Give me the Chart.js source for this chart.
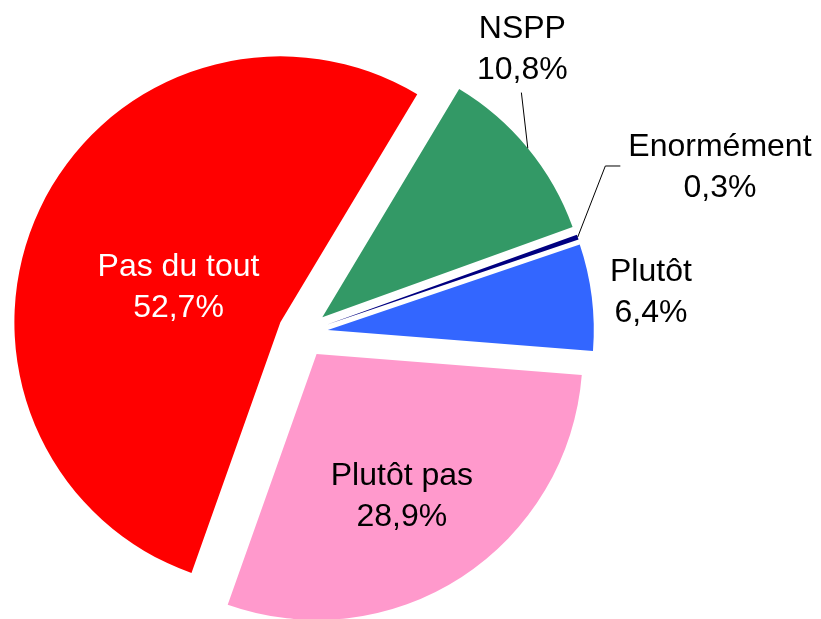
<!DOCTYPE html>
<html lang="fr">
<head>
<meta charset="utf-8">
<title>Répartition des réponses</title>
<script src="https://cdn.jsdelivr.net/npm/chart.js@4/dist/chart.umd.min.js"></script>
<style>
    html, body { margin: 0; padding: 0; background: #fff; }
    #wrap { width: 821px; height: 619px; position: relative; }
</style>
</head>
<body>
<div id="wrap"><canvas id="pieChart"></canvas></div>
<script>
// Data
const categories = ['Enormément', 'Plutôt', 'Plutôt pas', 'Pas du tout', 'NSPP'];
const percentages = [0.3, 6.4, 28.9, 52.7, 10.8];

// Styles
const sliceColors = ['#000080', '#3366FF', '#FF99CC', '#FF0000', '#339966'];
const labelColors = ['#000000', '#000000', '#000000', '#FFFFFF', '#000000'];
// where each label sits: distance from the slice tip (share of radius), angle nudge (deg), leader line
const labelPlacement = [
    { dist: 1.596, nudge: -2.85, leader: 'left' },
    { dist: 1.224, nudge: 0, leader: null },
    { dist: 0.616, nudge: 1.6, leader: null },
    { dist: 0.408, nudge: -5.1, leader: null },
    { dist: 1.265, nudge: -14.1, leader: 'bottom' }
];

const FONT_SIZE = 32;
const FONT = FONT_SIZE + 'px "Liberation Sans", Arial, sans-serif';
const LINE_H = 41;
const EXPLODE = 25; // px each slice is pulled out from the centre

function fmtPct(v) {
    return v.toFixed(1).replace('.', ',') + '%';
}

// Pull every slice out along its mid angle. Chart.js' own offset drops the very
// thin "Enormément" slice, so the slice centres are moved instead.
const explode = {
    id: 'explode',
    afterDatasetUpdate(chart, args) {
        args.meta.data.forEach(arc => {
            const mid = (arc.startAngle + arc.endAngle) / 2;
            arc.x += Math.cos(mid) * EXPLODE;
            arc.y += Math.sin(mid) * EXPLODE;
        });
    }
};

// Category + percentage labels, with leader lines for the outside ones
const sliceLabels = {
    id: 'sliceLabels',
    afterDatasetsDraw(chart) {
        const ctx = chart.ctx;
        const meta = chart.getDatasetMeta(0);
        ctx.save();
        ctx.font = FONT;
        ctx.textAlign = 'center';
        ctx.textBaseline = 'alphabetic';
        meta.data.forEach((arc, i) => {
            const p = labelPlacement[i];
            const r = arc.outerRadius;
            const mid = (arc.startAngle + arc.endAngle) / 2;
            const a = mid + p.nudge * Math.PI / 180;
            const cx = arc.x + Math.cos(a) * r * p.dist;
            const cy = arc.y + Math.sin(a) * r * p.dist;
            const lines = [categories[i], fmtPct(percentages[i])];

            ctx.fillStyle = labelColors[i];
            lines.forEach((txt, k) => {
                const lineMid = cy + (k - 0.5) * LINE_H;
                ctx.fillText(txt, cx, lineMid + FONT_SIZE * 0.358);
            });

            if (p.leader) {
                const ex = arc.x + Math.cos(mid) * r;
                const ey = arc.y + Math.sin(mid) * r;
                ctx.strokeStyle = '#000';
                ctx.lineWidth = 1;
                ctx.beginPath();
                ctx.moveTo(ex, ey);
                if (p.leader === 'bottom') {
                    ctx.lineTo(cx - 1, cy + LINE_H + 5);
                } else {
                    const w = Math.max(...lines.map(t => ctx.measureText(t).width));
                    const endX = cx - w / 2 - 8;
                    ctx.lineTo(endX - 15, cy + 1);
                    ctx.lineTo(endX, cy + 1);
                }
                ctx.stroke();
            }
        });
        ctx.restore();
    }
};

const ctxPie = document.getElementById('pieChart').getContext('2d');
const pieChart = new Chart(ctxPie, {
    type: 'pie',
    data: {
        labels: categories,
        datasets: [{
            data: percentages,
            backgroundColor: sliceColors,
            borderWidth: 0,
            offset: 0,
            hoverOffset: 0,
            rotation: 70.2,
            radius: 266
        }]
    },
    options: {
        responsive: true,
        maintainAspectRatio: false,
        animation: false,
        events: [],
        layout: { padding: { left: 0, right: 215, top: 47, bottom: 0 } },
        plugins: {
            legend: { display: false },
            tooltip: { enabled: false }
        }
    },
    plugins: [explode, sliceLabels]
});
</script>
</body>
</html>
